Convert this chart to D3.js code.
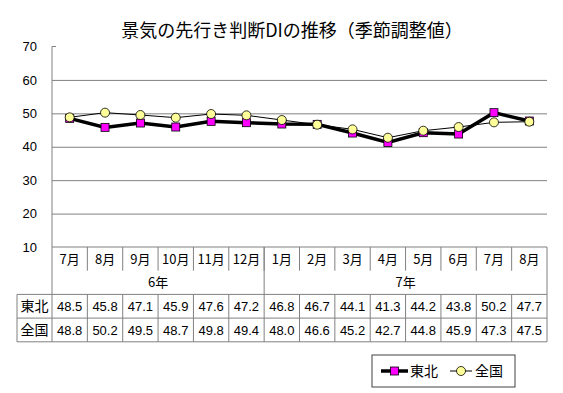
<!DOCTYPE html>
<html>
  <head>
    <meta charset="utf-8" />
    <title>景気の先行き判断DIの推移</title>
    <style>
      body {
        margin: 0;
        background: #fff;
      }
      svg {
        display: block;
        font-family: "Liberation Sans", Arial, sans-serif;
      }
      .jp {
        font-family: "Noto Sans CJK JP", sans-serif;
      }
      .grid line {
        stroke: #808080;
      }
      .cellline {
        stroke: #808080;
        stroke-width: 1;
      }
    </style>
    <script src="https://d3js.org/d3.v7.min.js"></script>
  </head>
  <body>
    <script>
      const months = ["7月", "8月", "9月", "10月", "11月", "12月", "1月", "2月", "3月", "4月", "5月", "6月", "7月", "8月"];
      const years = [
        { label: "6年", from: 0, to: 6 },
        { label: "7年", from: 6, to: 14 },
      ];
      const tohoku = [48.5, 45.8, 47.1, 45.9, 47.6, 47.2, 46.8, 46.7, 44.1, 41.3, 44.2, 43.8, 50.2, 47.7];
      const zenkoku = [48.8, 50.2, 49.5, 48.7, 49.8, 49.4, 48.0, 46.6, 45.2, 42.7, 44.8, 45.9, 47.3, 47.5];
      const yTicks = [10, 20, 30, 40, 50, 60, 70];

      const width = 563,
        height = 393;
      const plot = { left: 52, right: 547, top: 46.5, bottom: 247 };
      const rowH = 23.7;
      const tableLeft = 17;

      const svg = d3
        .select("body")
        .append("svg")
        .attr("width", width)
        .attr("height", height);

      const x = d3
        .scaleBand()
        .domain(d3.range(months.length))
        .range([plot.left, plot.right]);
      const y = d3.scaleLinear().domain([10, 70]).range([plot.bottom, plot.top]);

      // title
      svg
        .append("text")
        .attr("class", "jp")
        .attr("x", 292)
        .attr("y", 37)
        .attr("text-anchor", "middle")
        .style("font-size", "18px")
        .text("景気の先行き判断DIの推移（季節調整値）");

      // gridlines
      svg
        .append("g")
        .attr("class", "grid")
        .attr("transform", "translate(" + plot.left + ",0)")
        .call(
          d3
            .axisLeft(y)
            .tickValues([20, 30, 40, 50, 60])
            .tickSize(-(plot.right - plot.left))
            .tickFormat("")
        )
        .call((g) => g.select(".domain").remove());

      // y axis labels
      svg
        .append("g")
        .attr("transform", "translate(" + plot.left + ",0)")
        .call(d3.axisLeft(y).tickValues(yTicks).tickSize(0).tickPadding(15))
        .call((g) => g.select(".domain").remove())
        .call((g) =>
          g
            .selectAll("text")
            .style("font-size", "13px")
            .style("font-family", "'Liberation Sans', Arial, sans-serif")
            .attr("fill", "#000")
        );

      // y axis line + top stub
      svg
        .append("line")
        .attr("class", "cellline")
        .attr("x1", plot.left)
        .attr("x2", plot.left)
        .attr("y1", y(70))
        .attr("y2", plot.bottom + rowH * 2);
      svg
        .append("line")
        .attr("class", "cellline")
        .attr("x1", plot.left)
        .attr("x2", plot.left + 4)
        .attr("y1", y(70))
        .attr("y2", y(70));

      // category table (months + years)
      const cat = svg.append("g");
      cat
        .append("line")
        .attr("class", "cellline")
        .attr("x1", plot.left)
        .attr("x2", plot.right)
        .attr("y1", plot.bottom)
        .attr("y2", plot.bottom);
      cat
        .selectAll(".msep")
        .data(d3.range(1, months.length))
        .join("line")
        .attr("class", "cellline")
        .attr("x1", (i) => x(i))
        .attr("x2", (i) => x(i))
        .attr("y1", plot.bottom)
        .attr("y2", plot.bottom + rowH);
      cat
        .selectAll(".month")
        .data(months)
        .join("text")
        .attr("class", "jp")
        .attr("x", (d, i) => x(i) + x.bandwidth() / 2)
        .attr("y", plot.bottom + rowH / 2)
        .attr("dy", "0.36em")
        .attr("text-anchor", "middle")
        .style("font-size", "13px")
        .text((d) => d);
      cat
        .selectAll(".ysep")
        .data(years)
        .join("line")
        .attr("class", "cellline")
        .attr("x1", (d) => (d.to < months.length ? x(d.to) : plot.right))
        .attr("x2", (d) => (d.to < months.length ? x(d.to) : plot.right))
        .attr("y1", plot.bottom)
        .attr("y2", plot.bottom + rowH * 2);
      cat
        .selectAll(".year")
        .data(years)
        .join("text")
        .attr("class", "jp")
        .attr("x", (d) => (x(d.from) + (d.to < months.length ? x(d.to) : plot.right)) / 2)
        .attr("y", plot.bottom + rowH * 1.5)
        .attr("dy", "0.36em")
        .attr("text-anchor", "middle")
        .style("font-size", "13px")
        .text((d) => d.label);

      // data table
      const tableTop = plot.bottom + rowH * 2;
      const rows = [
        { name: "東北", values: tohoku },
        { name: "全国", values: zenkoku },
      ];
      const tbl = svg.append("g");
      d3.range(rows.length + 1).forEach((r) => {
        tbl
          .append("line")
          .attr("class", "cellline")
          .attr("x1", tableLeft)
          .attr("x2", plot.right)
          .attr("y1", tableTop + r * rowH)
          .attr("y2", tableTop + r * rowH);
      });
      [tableLeft, plot.right].concat(d3.range(0, months.length).map((i) => x(i))).forEach((xx) => {
        tbl
          .append("line")
          .attr("class", "cellline")
          .attr("x1", xx)
          .attr("x2", xx)
          .attr("y1", tableTop)
          .attr("y2", tableTop + rows.length * rowH);
      });
      rows.forEach((row, r) => {
        const cy = tableTop + r * rowH + rowH / 2;
        tbl
          .append("text")
          .attr("class", "jp")
          .attr("x", (tableLeft + plot.left) / 2)
          .attr("y", cy)
          .attr("dy", "0.36em")
          .attr("text-anchor", "middle")
          .style("font-size", "14px")
          .text(row.name);
        tbl
          .selectAll(null)
          .data(row.values)
          .join("text")
          .attr("x", (d, i) => x(i) + x.bandwidth() / 2)
          .attr("y", cy)
          .attr("dy", "0.36em")
          .attr("text-anchor", "middle")
          .style("font-size", "13px")
          .text((d) => d.toFixed(1));
      });

      // series
      const line = d3
        .line()
        .x((d, i) => x(i) + x.bandwidth() / 2)
        .y((d) => y(d));

      svg
        .append("path")
        .datum(tohoku)
        .attr("fill", "none")
        .attr("stroke", "#000")
        .attr("stroke-width", 3.5)
        .attr("d", line);
      svg
        .selectAll(".sq")
        .data(tohoku)
        .join("rect")
        .attr("x", (d, i) => x(i) + x.bandwidth() / 2 - 4)
        .attr("y", (d) => y(d) - 4)
        .attr("width", 8)
        .attr("height", 8)
        .attr("fill", "#ff00ff")
        .attr("stroke", "#000")
        .attr("stroke-width", 0.8);

      svg
        .append("path")
        .datum(zenkoku)
        .attr("fill", "none")
        .attr("stroke", "#000")
        .attr("stroke-width", 1)
        .attr("d", line);
      svg
        .selectAll(".ci")
        .data(zenkoku)
        .join("circle")
        .attr("cx", (d, i) => x(i) + x.bandwidth() / 2)
        .attr("cy", (d) => y(d))
        .attr("r", 4.5)
        .attr("fill", "#ffff99")
        .attr("stroke", "#000")
        .attr("stroke-width", 0.8);

      // legend
      const lg = svg.append("g").attr("transform", "translate(372,355)");
      lg.append("rect")
        .attr("width", 143)
        .attr("height", 32)
        .attr("fill", "#fff")
        .attr("stroke", "#404040");
      lg.append("line")
        .attr("x1", 9)
        .attr("x2", 36)
        .attr("y1", 16)
        .attr("y2", 16)
        .attr("stroke", "#000")
        .attr("stroke-width", 3.5);
      lg.append("rect")
        .attr("x", 18.5)
        .attr("y", 12)
        .attr("width", 8)
        .attr("height", 8)
        .attr("fill", "#ff00ff")
        .attr("stroke", "#000")
        .attr("stroke-width", 0.8);
      lg.append("text")
        .attr("class", "jp")
        .attr("x", 38)
        .attr("y", 16)
        .attr("dy", "0.36em")
        .style("font-size", "14px")
        .text("東北");
      lg.append("line")
        .attr("x1", 78)
        .attr("x2", 100)
        .attr("y1", 16)
        .attr("y2", 16)
        .attr("stroke", "#000")
        .attr("stroke-width", 1);
      lg.append("circle")
        .attr("cx", 89)
        .attr("cy", 16)
        .attr("r", 4.5)
        .attr("fill", "#ffff99")
        .attr("stroke", "#000")
        .attr("stroke-width", 0.8);
      lg.append("text")
        .attr("class", "jp")
        .attr("x", 103)
        .attr("y", 16)
        .attr("dy", "0.36em")
        .style("font-size", "14px")
        .text("全国");
    </script>
  </body>
</html>
